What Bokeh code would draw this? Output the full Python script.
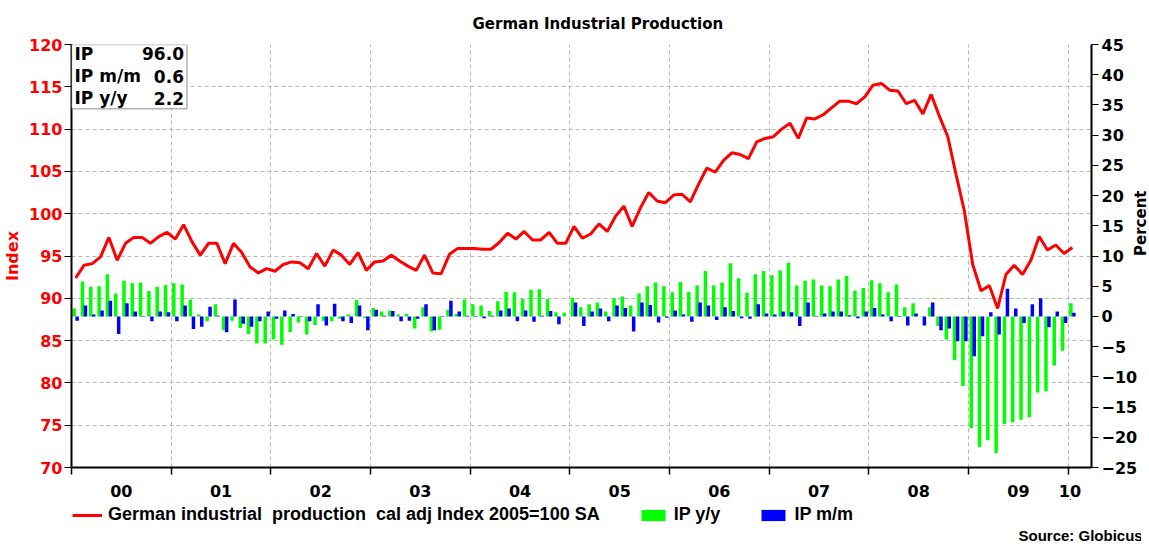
from bokeh.plotting import figure
from bokeh.layouts import column
from bokeh.models import (Range1d, LinearAxis, FixedTicker, ColumnDataSource, Legend,
                          LegendItem, BoxAnnotation, Label, Title)
from bokeh.transform import dodge
from bokeh.embed import file_html
from bokeh.resources import INLINE

# ---------------- data (monthly, Jan 2000 .. Jan 2010) ----------------
ip = [92.4, 93.9, 94.1, 94.9, 97.2, 94.5, 96.5, 97.2, 97.2, 96.5, 97.3, 97.8,
      97.0, 98.7, 96.7, 95.1, 96.5, 96.5, 94.1, 96.5, 95.4, 93.7, 93.0, 93.5,
      93.2, 94.0, 94.3, 94.2, 93.5, 95.3, 93.8, 95.7, 95.1, 94.0, 95.4, 93.3,
      94.3, 94.4, 95.1, 94.4, 93.8, 93.3, 95.1, 93.0, 92.9, 95.2, 95.9, 95.9,
      95.9, 95.8, 95.8, 96.6, 97.7, 97.0, 97.9, 96.9, 96.9, 97.8, 96.5, 96.5,
      98.5, 97.1, 97.6, 98.8, 97.9, 99.7, 100.9, 98.5, 100.7, 102.5, 101.5, 101.3,
      102.2, 102.3, 101.4, 103.5, 105.4, 104.9, 106.3, 107.2, 107.0, 106.5, 108.5, 108.9,
      109.1, 110.0, 110.7, 108.9, 111.3, 111.2, 111.7, 112.5, 113.3, 113.3, 113.0, 113.8,
      115.2, 115.4, 114.6, 114.5, 113.0, 113.4, 111.8, 114.1, 111.5, 109.1, 104.6, 100.3,
      94.0, 90.9, 91.5, 88.8, 92.8, 93.9, 92.8, 94.5, 97.3, 95.7, 96.3, 95.3,
      96.0]

ip_yy = [1.3, 5.8, 4.9, 5.0, 7.0, 3.8, 5.9, 5.5, 5.6, 4.2, 4.9, 5.2,
         5.5, 5.3, 2.8, 0.3, -0.8, 2.0, -2.3, -0.7, -1.9, -2.9, -4.5, -4.5,
         -3.8, -4.7, -2.6, -1.0, -3.0, -1.4, -0.7, -0.8, -0.4, 0.3, 2.7, -0.3,
         1.4, 0.8, 1.0, 0.3, 0.4, -2.0, 1.5, -2.5, -2.2, 1.1, 0.4, 2.8,
         2.0, 1.8, 0.9, 2.5, 4.1, 4.0, 2.9, 4.4, 4.5, 2.9, 0.7, 0.6,
         3.1, 1.5, 2.0, 2.3, 0.8, 3.0, 3.3, 1.8, 3.8, 5.0, 5.6, 5.0,
         4.0, 5.7, 4.1, 5.1, 7.5, 5.1, 5.6, 8.8, 6.3, 3.9, 7.0, 7.5,
         6.8, 7.6, 8.9, 5.1, 5.9, 6.1, 5.1, 5.0, 6.1, 6.7, 4.3, 4.7,
         6.0, 5.5, 4.0, 5.3, 1.5, 2.2, -0.1, 1.5, -1.6, -3.8, -7.2, -11.5,
         -18.5, -21.6, -20.5, -22.6, -17.8, -17.5, -17.1, -16.7, -12.6, -12.4, -8.1, -5.7,
         2.2]

ip_mm = [-0.7, 1.8, 0.3, 1.0, 2.6, -2.9, 2.2, 0.8, -0.1, -0.8, 0.8, 0.7,
         -0.8, 1.8, -2.1, -1.7, 1.6, 0.1, -2.6, 2.8, -1.2, -1.7, -0.8, 0.8,
         -0.4, 1.0, 0.4, -0.1, -0.8, 2.0, -1.5, 2.1, -0.8, -1.1, 1.8, -2.3,
         1.1, 0.1, 0.9, -0.8, -0.7, -0.4, 2.0, -2.3, -0.1, 2.6, 0.8, 0.1,
         -0.1, -0.3, 0.1, 1.0, 1.3, -0.8, 1.0, -0.9, 0.1, 0.9, -1.3, 0.0,
         2.3, -1.6, 0.8, 1.3, -0.8, 1.8, 1.4, -2.5, 2.3, 1.9, -1.0, -0.2,
         1.0, 0.3, -0.9, 2.3, 1.8, -0.6, 1.5, 0.9, -0.3, -0.4, 2.0, 0.5,
         0.3, 0.8, 0.7, -1.6, 2.3, -0.1, 0.5, 0.8, 0.8, 0.2, -0.3, 0.8,
         1.4, 0.3, -0.8, -0.1, -1.5, 0.5, -1.5, 2.3, -2.3, -2.0, -4.1, -4.1,
         -6.6, -3.3, 0.7, -3.0, 4.6, 1.3, -1.1, 2.0, 3.0, -1.8, 0.8, -1.1,
         0.6]

year_labels = ["00", "01", "02", "03", "04", "05", "06", "07", "08", "09", "10"]
left_ticks = [70, 75, 80, 85, 90, 95, 100, 105, 110, 115, 120]
right_ticks = [-25, -20, -15, -10, -5, 0, 5, 10, 15, 20, 25, 30, 35, 40, 45]
series_names = ["German industrial  production  cal adj Index 2005=100 SA", "IP y/y", "IP m/m"]

RED, GREEN, BLUE = "#ff0000", "#00ff00", "#0000ff"

month = list(range(len(ip)))
src = ColumnDataSource(dict(month=month, ip=ip, yy=ip_yy, mm=ip_mm))

FONT = "DejaVu Sans"
LFONT = "Liberation Sans"
FW, FH = 1020, 423
TOTAL_W = 1141

p = figure(frame_width=FW, frame_height=FH, x_range=Range1d(-0.5, 122.3), y_range=Range1d(70, 120),
           output_backend="svg", toolbar_location=None,
           min_border_left=20, min_border_right=0, min_border_top=10, min_border_bottom=31)
p.extra_y_ranges = {"pct": Range1d(-25, 45)}
p.outline_line_color = None
p.background_fill_color = "white"

p.title.text = "German  Industrial Production"
p.title.align = "left"
p.title.offset = 401
p.title.text_font = FONT
p.title.text_font_size = "15px"
p.title.text_font_style = "bold"
p.title.text_color = "black"
p.title.standoff = 24

# bars
g = p.vbar(x=dodge("month", -0.18, range=p.x_range), top="yy", width=0.42, source=src,
           y_range_name="pct", fill_color=GREEN, line_color=None)
b = p.vbar(x=dodge("month", 0.18, range=p.x_range), top="mm", width=0.42, source=src,
           y_range_name="pct", fill_color=BLUE, line_color=None)
r = p.line(x="month", y="ip", source=src, line_color=RED, line_width=3)

# x axis: years
boundaries = [12 * k - 0.5 for k in range(len(year_labels))]
mids = [12 * k + 5.5 for k in range(len(year_labels) - 1)] + [12 * (len(year_labels) - 1) - 0.3]
xa = p.xaxis[0]
xa.ticker = FixedTicker(ticks=mids, minor_ticks=boundaries)
xa.major_label_overrides = {m: lab for m, lab in zip(mids, year_labels)}
xa.major_tick_out = 0
xa.major_tick_in = 0
xa.minor_tick_out = 7
xa.minor_tick_in = 0
xa.minor_tick_line_color = "black"
xa.minor_tick_line_width = 1.5
xa.axis_line_color = "black"
xa.axis_line_width = 2
xa.major_label_text_font = FONT
xa.major_label_text_font_style = "bold"
xa.major_label_text_font_size = "16px"
xa.major_label_text_color = "black"
xa.major_label_standoff = 10

# left axis
ya = p.yaxis[0]
ya.ticker = FixedTicker(ticks=left_ticks)
ya.axis_label = "Index"
ya.axis_label_text_color = RED
ya.axis_label_text_font = FONT
ya.axis_label_text_font_style = "bold"
ya.axis_label_text_font_size = "16px"
ya.axis_label_standoff = 4
ya.major_label_text_color = RED
ya.major_label_text_font = FONT
ya.major_label_text_font_style = "bold"
ya.major_label_text_font_size = "16px"
ya.major_label_standoff = 2
ya.major_tick_out = 7
ya.major_tick_in = 0
ya.minor_tick_out = 0
ya.minor_tick_in = 0
ya.axis_line_color = "black"
ya.axis_line_width = 2
ya.major_tick_line_color = "black"

# right axis
ra = LinearAxis(y_range_name="pct", ticker=FixedTicker(ticks=right_ticks), axis_label="Percent")
ra.axis_label_text_font = FONT
ra.axis_label_text_font_style = "bold"
ra.axis_label_text_font_size = "15px"
ra.axis_label_text_color = "black"
ra.axis_label_standoff = 1
ra.axis_label_orientation = 1.5708
ra.major_label_text_font = FONT
ra.major_label_text_font_style = "bold"
ra.major_label_text_font_size = "16px"
ra.major_label_text_color = "black"
ra.major_label_standoff = 3
ra.major_tick_out = 7
ra.major_tick_in = 0
ra.minor_tick_out = 0
ra.minor_tick_in = 0
ra.axis_line_color = "black"
ra.axis_line_width = 2
p.add_layout(ra, "right")

# grids
p.xgrid.ticker = FixedTicker(ticks=boundaries[1:])
p.ygrid.ticker = FixedTicker(ticks=left_ticks[1:-1])
for gr in (p.xgrid[0], p.ygrid[0]):
    gr.grid_line_color = "#b8b8b8"
    gr.grid_line_dash = "4 3"
    gr.grid_line_width = 1

# info box
box = BoxAnnotation(left=-0.5, right=13.4, top=120, bottom=112.4, fill_color="white",
                    fill_alpha=1.0, line_color="black", line_width=1.5)
p.add_layout(box)
rows = [("IP", f"{ip[-1]:.1f}", 118.9), ("IP m/m", f"{ip_mm[-1]:.1f}", 116.25),
        ("IP y/y", f"{ip_yy[-1]:.1f}", 113.65)]
for name, val, yy in rows:
    p.add_layout(Label(x=-0.5, y=yy, x_offset=3, text=name, text_font=FONT, text_font_style="bold",
                       text_font_size="17px", text_baseline="middle", text_align="left",
                       text_color="black"))
    p.add_layout(Label(x=13.4, y=yy, x_offset=-3, text=val, text_font=FONT, text_font_style="bold",
                       text_font_size="17px", text_baseline="middle", text_align="right",
                       text_color="black"))

# ---------------- legend strip below the chart ----------------
LH = 44
leg = figure(width=TOTAL_W, height=LH, x_range=Range1d(-1000, -999), y_range=Range1d(-1000, -999),
             output_backend="svg", toolbar_location=None, min_border=0,
             x_axis_location=None, y_axis_location=None)
leg.outline_line_color = None
leg.grid.visible = False
# same series (they fall outside this strip's ranges, only their legend swatches show)
lr = leg.line(x="month", y="ip", source=src, line_color=RED, line_width=3)
lg = leg.vbar(x="month", top="yy", width=0.42, source=src, fill_color=GREEN, line_color=None)
lb = leg.vbar(x="month", top="mm", width=0.42, source=src, fill_color=BLUE, line_color=None)

legend = Legend(items=[LegendItem(label=series_names[0], renderers=[lr]),
                       LegendItem(label=series_names[1], renderers=[lg]),
                       LegendItem(label=series_names[2], renderers=[lb])],
                orientation="horizontal", location=(1, 0))
legend.label_text_font = LFONT
legend.label_text_font_style = "bold"
legend.label_text_font_size = "18px"
legend.label_text_color = "black"
legend.glyph_width = 30
legend.glyph_height = 14
legend.spacing = 38
legend.label_standoff = 6
legend.margin = 0
legend.padding = 0
legend.border_line_color = None
legend.background_fill_alpha = 0
leg.add_layout(legend)

leg.add_layout(Title(text="Source: Globicus", align="left", offset=947, standoff=-1,
                     text_font=LFONT, text_font_style="bold", text_font_size="15px",
                     text_color="black"), "below")

open("out.html", "w").write(file_html(column(p, leg, spacing=0), INLINE))
